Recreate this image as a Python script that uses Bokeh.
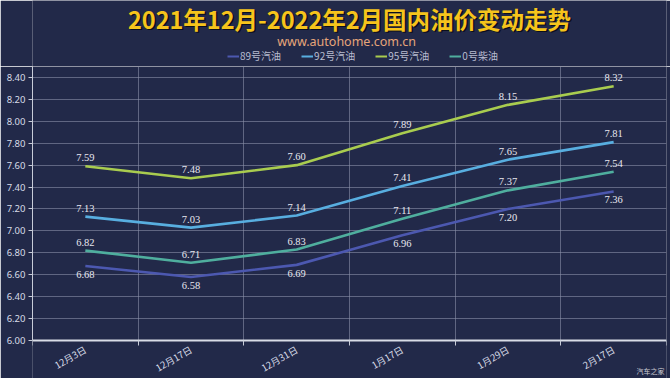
import numpy as np
from bokeh.plotting import figure
from bokeh.layouts import column
from bokeh.models import (ColumnDataSource, LabelSet, Label, Range1d, FixedTicker,
                          Legend, LegendItem, NumeralTickFormatter, BoxAnnotation)
from bokeh.core.properties import value
from bokeh.embed import file_html
from bokeh.resources import INLINE

# ---- data ----
dates = ["12月3日", "12月17日", "12月31日", "1月17日", "1月29日", "2月17日"]
series_names = ["89号汽油", "92号汽油", "95号汽油", "0号柴油"]
p89 = [6.68, 6.58, 6.69, 6.96, 7.20, 7.36]
p92 = [7.13, 7.03, 7.14, 7.41, 7.65, 7.81]
p95 = [7.59, 7.48, 7.60, 7.89, 8.15, 8.32]
p0 = [6.82, 6.71, 6.83, 7.11, 7.37, 7.54]
y_ticks = [6.0, 6.2, 6.4, 6.6, 6.8, 7.0, 7.2, 7.4, 7.6, 7.8, 8.0, 8.2, 8.4]

colors = ["#4c58b0", "#58aee0", "#a9cc4f", "#4fae9e"]
values = [p89, p92, p95, p0]
label_below = [True, False, False, False]

BG = "#222949"
n = len(dates)
xs = [i + 0.5 for i in range(n)]
Y0, Y1 = 6.0, 8.5

# ---------------- header (title, subtitle, legend) ----------------
W, HTOT, HH = 670, 378, 66
h = figure(width=W, height=HH, output_backend="svg", toolbar_location=None,
           x_range=Range1d(0, W), y_range=Range1d(0, HH),
           x_axis_location=None, y_axis_location=None,
           min_border=0, min_border_left=0, min_border_right=0,
           min_border_top=0, min_border_bottom=0)
h.grid.visible = False
h.background_fill_color = BG
h.border_fill_color = BG
h.outline_line_color = None

title_txt = "2021年12月-2022年2月国内油价变动走势"
h.add_layout(Label(x=W / 2, y=HH - 18, x_offset=1.5, y_offset=-1.5,
                   text=title_txt, text_font="Noto Sans CJK SC", text_font_style="bold",
                   text_font_size="23.5px", text_color="#000000", text_alpha=0.65,
                   text_align="center", text_baseline="middle"))
h.add_layout(Label(x=W / 2, y=HH - 18,
                   text=title_txt, text_font="Noto Sans CJK SC", text_font_style="bold",
                   text_font_size="23.5px", text_color="#f6c41c",
                   text_align="center", text_baseline="middle"))
h.add_layout(Label(x=W / 2 - 3, y=HH - 41,
                   text="www.autohome.com.cn", text_font="Noto Sans",
                   text_font_size="12.5px", text_color="#e6a57a",
                   text_align="center", text_baseline="middle"))

items = []
for name, vals, col in zip(series_names, values, colors):
    r = h.line(xs, vals, line_color=col, line_width=2.0)
    r.visible = False
    items.append(LegendItem(label=name, renderers=[r]))
legend = Legend(items=items, orientation="horizontal", location=(195, 3),
                background_fill_alpha=0, border_line_alpha=0,
                inactive_fill_alpha=0,
                label_text_font="Noto Sans CJK SC", label_text_font_size="10px",
                label_text_color="#b8bcd0", glyph_width=12, glyph_height=12,
                label_height=12, label_standoff=1, spacing=20, padding=0, margin=0)
h.add_layout(legend, "center")

# ---------------- main chart ----------------
MH = HTOT - HH            # main figure height
FRAME_BOTTOM_GAP = 38     # px between the x axis and the bottom of the page
px_per_unit = (MH - FRAME_BOTTOM_GAP) / (Y1 - Y0)
y_lo = Y0 - FRAME_BOTTOM_GAP / px_per_unit

p = figure(width=W, height=MH, output_backend="svg", toolbar_location=None,
           x_range=Range1d(0, n), y_range=Range1d(y_lo, Y1),
           min_border_left=32, min_border_right=4, min_border_top=0, min_border_bottom=0)
p.background_fill_color = BG
p.border_fill_color = BG
p.outline_line_color = None

# cover grid lines below the x axis
p.add_layout(BoxAnnotation(top=Y0, fill_color=BG, fill_alpha=1.0, line_color=None,
                           level="glyph"))

p.xaxis.fixed_location = Y0
p.xaxis.ticker = FixedTicker(ticks=xs, minor_ticks=list(range(n + 1)))
p.xaxis.major_label_overrides = {x: d for x, d in zip(xs, dates)}
p.xaxis.major_label_orientation = np.pi / 6
p.xaxis.major_tick_out = 0
p.xaxis.major_tick_in = 0
p.xaxis.minor_tick_out = 5
p.xaxis.minor_tick_in = 0
p.xaxis.minor_tick_line_color = "#c8ccd8"
p.xaxis.axis_line_color = "#d8dce6"
p.xaxis.axis_line_width = 2
p.xaxis.major_label_text_color = "#d8dce8"
p.xaxis.major_label_text_font = "Noto Sans CJK SC"
p.xaxis.major_label_text_font_size = "9.5px"
p.xaxis.major_label_standoff = 3

p.yaxis.bounds = (Y0, Y1)
p.yaxis.ticker = FixedTicker(ticks=y_ticks)
p.yaxis.formatter = NumeralTickFormatter(format="0.00")
p.yaxis.axis_line_color = "#c8ccd8"
p.yaxis.major_tick_line_color = "#c8ccd8"
p.yaxis.major_tick_out = 4
p.yaxis.major_tick_in = 0
p.yaxis.minor_tick_line_color = None
p.yaxis.major_label_text_color = "#d8dce8"
p.yaxis.major_label_text_font = "Noto Sans"
p.yaxis.major_label_text_font_size = "9.5px"
p.yaxis.major_label_standoff = 3

p.xgrid.ticker = FixedTicker(ticks=list(range(1, n + 1)))
p.xgrid.grid_line_color = "#8a90a8"
p.xgrid.grid_line_alpha = 0.6
p.ygrid.ticker = FixedTicker(ticks=y_ticks[1:])
p.ygrid.grid_line_color = "#8a90a8"
p.ygrid.grid_line_alpha = 0.6

for name, vals, col, below in zip(series_names, values, colors, label_below):
    src = ColumnDataSource(dict(x=xs, y=vals, t=[f"{v:.2f}" for v in vals]))
    p.line("x", "y", source=src, line_color=col, line_width=2.6)
    p.add_layout(LabelSet(x="x", y="y", text="t", source=src,
                          text_font=value("Liberation Serif"), text_font_size="10.5px",
                          text_color="#e8e8f0", text_align="center",
                          text_baseline="top" if below else "bottom",
                          y_offset=-5 if below else 5))

# watermark in the bottom-right corner
p.add_layout(Label(x=n, y=y_lo, x_offset=-2, y_offset=8,
                   text="汽车之家", text_font="Noto Sans CJK SC",
                   text_font_size="7px", text_color="#c8c8d0",
                   text_align="right", text_baseline="middle"))

open("out.html", "w").write(file_html(column(h, p, spacing=0), INLINE))
